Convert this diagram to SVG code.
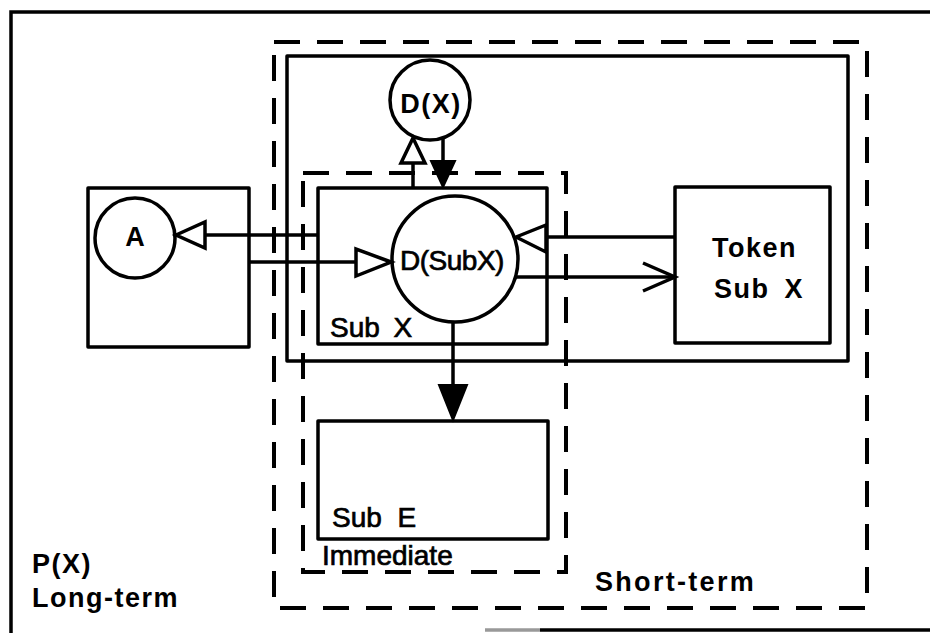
<svg xmlns="http://www.w3.org/2000/svg" width="930" height="633" viewBox="0 0 930 633">
<style>
.box{fill:none;stroke:#000;stroke-width:3.5;stroke-linejoin:round}
.dash{fill:none;stroke:#000;stroke-width:4;stroke-dasharray:26 17}
.ln{fill:none;stroke:#000;stroke-width:3.5}
.open{fill:#fff;stroke:#000;stroke-width:3.5;stroke-linejoin:miter}
.solid{fill:#000;stroke:#000;stroke-width:2}
.b{font-family:"Liberation Sans",Arial,sans-serif;font-weight:bold;font-size:27px;letter-spacing:1.5px;fill:#000}
.r{font-family:"Liberation Sans",Arial,sans-serif;font-size:28px;fill:#000;stroke:#000;stroke-width:0.7}
</style>
<rect width="930" height="633" fill="#fff"/>
<g id="longterm">
<path class="ln" d="M11,633 V12 H930"/>
<line x1="485" y1="630" x2="540" y2="630" stroke="#999" stroke-width="3.5"/>
<line x1="540" y1="630" x2="930" y2="630" stroke="#000" stroke-width="3.5"/>
<text class="b" x="32" y="573">P(X)</text>
<text class="b" x="32" y="607">Long-term</text>
</g>
<g id="shortterm">
<rect class="dash" x="274" y="42" width="593" height="566"/>
<text class="b" x="595" y="591" style="letter-spacing:2.3px">Short-term</text>
</g>
<g id="dxregion">
<rect class="box" x="287" y="56" width="561" height="305"/>
</g>
<g id="immediate">
<rect class="dash" x="303" y="173" width="263" height="399"/>
<text class="r" x="322" y="565">Immediate</text>
</g>
<g id="boxA">
<rect class="box" x="88" y="188" width="161" height="159"/>
</g>
<g id="A">
<circle class="box" cx="135" cy="238" r="40"/>
<text class="b" x="135" y="246" text-anchor="middle" style="letter-spacing:0">A</text>
</g>
<g id="subX">
<rect class="box" x="318" y="188" width="229" height="156"/>
<text class="r" x="330" y="337" style="word-spacing:6px">Sub X</text>
</g>
<g id="DX">
<circle class="box" cx="430" cy="100" r="40"/>
<text class="b" x="431" y="113" text-anchor="middle">D(X)</text>
</g>
<g id="DSubX">
<circle class="box" cx="455" cy="259" r="63"/>
<text class="r" x="452" y="270" text-anchor="middle" style="letter-spacing:-0.5px">D(SubX)</text>
</g>
<g id="token">
<rect class="box" x="675" y="187" width="155" height="156"/>
<text class="b" x="712" y="257">Token</text>
<text class="b" x="714" y="298" style="word-spacing:6px">Sub X</text>
</g>
<g id="subE">
<rect class="box" x="318" y="421" width="230" height="118"/>
<text class="r" x="332" y="527" style="word-spacing:8px">Sub E</text>
</g>
<g id="connectors">
<line class="ln" x1="318" y1="235" x2="205" y2="235"/>
<polygon class="open" points="176,235 205,222 205,248"/>
<line class="ln" x1="249" y1="262" x2="356" y2="262"/>
<polygon class="open" points="391,262 356,249 356,276"/>
<line class="ln" x1="675" y1="237" x2="546" y2="237"/>
<polygon class="open" points="516,237 546,225 546,252"/>
<line class="ln" x1="516" y1="277" x2="675" y2="277"/>
<polyline class="ln" points="643,263 675,277 643,291"/>
<line class="ln" x1="413" y1="188" x2="413" y2="163"/>
<polygon class="open" points="413,138 401,163 425,163"/>
<line class="ln" x1="443" y1="138" x2="443" y2="162"/>
<polygon class="solid" points="431,161 455,161 443,187"/>
<line class="ln" x1="453" y1="322" x2="453" y2="386"/>
<polygon class="solid" points="439,385 467,385 453,420"/>
</g>
</svg>
